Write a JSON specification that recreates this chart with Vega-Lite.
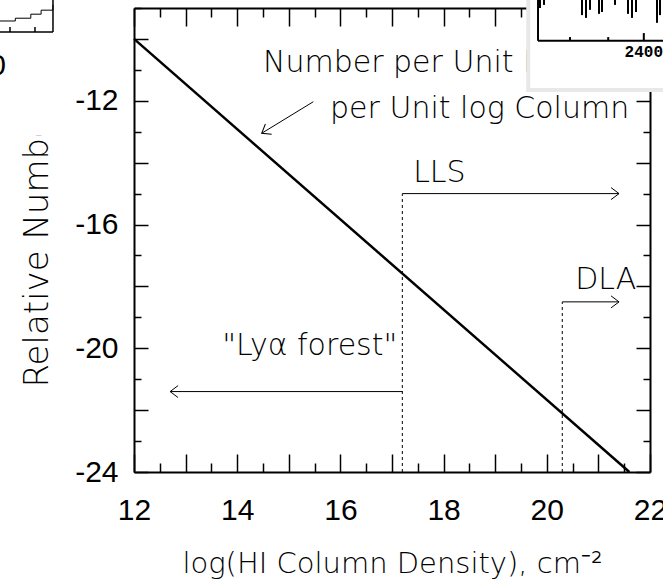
{
  "$schema": "https://vega.github.io/schema/vega-lite/v6.json",
  "width": 516,
  "height": 464,
  "autosize": {"type": "none"},
  "padding": {"left": 134, "top": 8, "right": 13, "bottom": 112},
  "background": "white",
  "config": {
    "view": {"stroke": null},
    "axis": {
      "domainColor": "black",
      "domainWidth": 2,
      "tickColor": "black",
      "tickWidth": 1.5,
      "labelColor": "black",
      "labelFont": "Liberation Sans",
      "labelFontSize": 30,
      "titleColor": "black",
      "titleFont": "DejaVu Sans",
      "titleFontWeight": 200,
      "grid": false
    },
    "text": {"font": "DejaVu Sans", "fontWeight": 200, "fontSize": 30, "color": "black"}
  },
  "datasets": {
    "powerlaw": [
      {"logN": 12.0, "logf": -10.0},
      {"logN": 21.6, "logf": -24.0}
    ],
    "limits": [
      {"name": "LLS", "logN": 17.2, "from": -24, "to": -15},
      {"name": "DLA", "logN": 20.3, "from": -24, "to": -18.5}
    ],
    "ranges": [
      {"name": "LLS", "start": 17.2, "end": 21.4, "level": -15},
      {"name": "DLA", "start": 20.3, "end": 21.4, "level": -18.5},
      {"name": "Lya forest", "start": 17.2, "end": 12.7, "level": -21.4}
    ],
    "pointer": [
      {"logN": 15.475, "logf": -12.03},
      {"logN": 14.475, "logf": -13.05}
    ],
    "annotations": [
      {"text": "Number per Unit Path", "logN": 14.5, "logf": -11.07},
      {"text": "per Unit log Column", "logN": 15.8, "logf": -12.56},
      {"text": "LLS", "logN": 17.41, "logf": -14.63},
      {"text": "DLA", "logN": 20.55, "logf": -18.08},
      {"text": "\"Lyα forest\"", "logN": 13.71, "logf": -20.22}
    ],
    "insetPanel": [
      {"x0": 19.64, "x1": 22.5, "y0": -8.5, "y1": -11.65}
    ],
    "insetFrame": [
      {"x0": 19.83, "x1": 19.83, "y0": -8.5, "y1": -10.06},
      {"x0": 19.83, "x1": 22.5, "y0": -10.06, "y1": -10.06},
      {"x0": 20.45, "x1": 20.45, "y0": -10.06, "y1": -9.94},
      {"x0": 21.19, "x1": 21.19, "y0": -10.06, "y1": -9.94},
      {"x0": 21.88, "x1": 21.88, "y0": -10.06, "y1": -9.81}
    ],
    "insetSpectrum": [
      {"wl": 19.868, "cont": -8.6, "depth": -9.0},
      {"wl": 19.946, "cont": -8.6, "depth": -8.9},
      {"wl": 20.682, "cont": -8.6, "depth": -9.23},
      {"wl": 20.76, "cont": -8.6, "depth": -9.32},
      {"wl": 20.837, "cont": -8.6, "depth": -9.06},
      {"wl": 21.012, "cont": -8.6, "depth": -9.19},
      {"wl": 21.07, "cont": -8.6, "depth": -9.13},
      {"wl": 21.322, "cont": -8.6, "depth": -8.9},
      {"wl": 21.574, "cont": -8.6, "depth": -9.19},
      {"wl": 21.651, "cont": -8.6, "depth": -9.32},
      {"wl": 21.729, "cont": -8.6, "depth": -9.13},
      {"wl": 22.136, "cont": -8.6, "depth": -9.48},
      {"wl": 22.194, "cont": -8.6, "depth": -9.23}
    ],
    "insetLabel": [
      {"text": "2400", "x": 21.88, "y": -10.58}
    ],
    "sidePanel": [
      {"x0": 9.0, "x1": 10.605, "y0": -8.5, "y1": -13.11}
    ],
    "sideFrame": [
      {"x0": 9.403, "x1": 10.43, "y0": -9.776, "y1": -9.776},
      {"x0": 10.43, "x1": 10.43, "y0": -8.5, "y1": -9.776},
      {"x0": 9.597, "x1": 9.597, "y0": -9.776, "y1": -9.614},
      {"x0": 10.081, "x1": 10.081, "y0": -9.776, "y1": -9.614}
    ],
    "sideCurve": [
      {"x": 9.403, "y": -9.42},
      {"x": 9.7, "y": -9.33},
      {"x": 10.0, "y": -9.2},
      {"x": 10.2, "y": -9.07},
      {"x": 10.43, "y": -8.903}
    ],
    "sideLabel": [
      {"text": "0", "x": 9.516, "y": -11.17}
    ]
  },
  "resolve": {"axis": {"x": "independent", "y": "independent"}},
  "layer": [
    {
      "data": {"name": "powerlaw"},
      "mark": {"type": "line", "color": "black", "strokeWidth": 2.5},
      "encoding": {
        "x": {
          "field": "logN", "type": "quantitative",
          "scale": {"domain": [12, 22], "nice": false, "zero": false},
          "axis": {
            "orient": "bottom",
            "values": [12, 13, 14, 15, 16, 17, 18, 19, 20, 21, 22],
            "tickSize": -18,
            "labelExpr": "datum.value % 2 === 0 ? format(datum.value, 'd') : ''",
            "labelPadding": 65,
            "labelBaseline": "alphabetic",
            "labelFlush": false,
            "labelOverlap": false,
            "title": "log(HI Column Density), cm⁻²",
            "titleFontSize": 29,
            "titleX": 258,
            "titleY": 100,
            "titleBaseline": "alphabetic",
            "titleAnchor": "middle"
          }
        },
        "y": {
          "field": "logf", "type": "quantitative",
          "scale": {"domain": [-24, -9], "nice": false, "zero": false},
          "axis": {
            "orient": "left",
            "values": [-24, -22, -20, -18, -16, -14, -12, -10],
            "tickSize": -14,
            "labelExpr": "datum.value % 4 === 0 ? replace(format(datum.value, 'd'), '\u2212', '-') : ''",
            "labelPadding": 30,
            "labelFlush": false,
            "labelOverlap": false,
            "title": "Relative Number",
            "titleFontSize": 34,
            "titleAngle": 270,
            "titleAlign": "left",
            "titleBaseline": "alphabetic",
            "titleX": -87,
            "titleY": 379
          }
        }
      }
    },
    {
      "data": {"name": "powerlaw"},
      "mark": {"type": "line", "opacity": 0},
      "encoding": {
        "x": {
          "field": "logN", "type": "quantitative",
          "axis": {"orient": "bottom", "values": [12.5, 13.5, 14.5, 15.5, 16.5, 17.5, 18.5, 19.5, 20.5, 21.5], "tickSize": -9, "labels": false, "domain": false, "title": null}
        },
        "y": {
          "field": "logf", "type": "quantitative",
          "axis": {"orient": "left", "values": [-23, -21, -19, -17, -15, -13, -11, -9], "tickSize": -7, "labels": false, "domain": false, "title": null}
        }
      }
    },
    {
      "data": {"name": "powerlaw"},
      "mark": {"type": "line", "opacity": 0},
      "encoding": {
        "x": {
          "field": "logN", "type": "quantitative",
          "axis": {"orient": "top", "values": [12, 13, 14, 15, 16, 17, 18, 19, 20, 21, 22], "tickSize": -18, "labels": false, "title": null}
        },
        "y": {
          "field": "logf", "type": "quantitative",
          "axis": {"orient": "right", "values": [-24, -22, -20, -18, -16, -14, -12, -10], "tickSize": -14, "labels": false, "title": null}
        }
      }
    },
    {
      "data": {"name": "powerlaw"},
      "mark": {"type": "line", "opacity": 0},
      "encoding": {
        "x": {
          "field": "logN", "type": "quantitative",
          "axis": {"orient": "top", "values": [12.5, 13.5, 14.5, 15.5, 16.5, 17.5, 18.5, 19.5, 20.5, 21.5], "tickSize": -9, "labels": false, "domain": false, "title": null}
        },
        "y": {
          "field": "logf", "type": "quantitative",
          "axis": {"orient": "right", "values": [-23, -21, -19, -17, -15, -13, -11, -9], "tickSize": -7, "labels": false, "domain": false, "title": null}
        }
      }
    },
    {
      "data": {"name": "limits"},
      "mark": {"type": "rule", "color": "black", "strokeWidth": 1, "strokeDash": [3, 3]},
      "encoding": {
        "x": {"field": "logN", "type": "quantitative", "axis": null},
        "y": {"field": "from", "type": "quantitative", "axis": null},
        "y2": {"field": "to"}
      }
    },
    {
      "data": {"name": "ranges"},
      "mark": {"type": "rule", "color": "black", "strokeWidth": 1},
      "encoding": {
        "x": {"field": "start", "type": "quantitative", "axis": null},
        "x2": {"field": "end"},
        "y": {"field": "level", "type": "quantitative", "axis": null}
      }
    },
    {
      "data": {"name": "ranges"},
      "transform": [{"filter": "datum.end > datum.start"}],
      "mark": {"type": "point", "shape": "M-1,-0.75L0,0L-1,0.75", "filled": false, "stroke": "black", "strokeWidth": 1, "size": 256, "opacity": 1},
      "encoding": {
        "x": {"field": "end", "type": "quantitative", "axis": null},
        "y": {"field": "level", "type": "quantitative", "axis": null}
      }
    },
    {
      "data": {"name": "ranges"},
      "transform": [{"filter": "datum.end < datum.start"}],
      "mark": {"type": "point", "shape": "M-1,-0.75L0,0L-1,0.75", "filled": false, "stroke": "black", "strokeWidth": 1, "size": 256, "opacity": 1, "angle": 180},
      "encoding": {
        "x": {"field": "end", "type": "quantitative", "axis": null},
        "y": {"field": "level", "type": "quantitative", "axis": null}
      }
    },
    {
      "data": {"name": "pointer"},
      "mark": {"type": "line", "color": "black", "strokeWidth": 1},
      "encoding": {
        "x": {"field": "logN", "type": "quantitative", "axis": null},
        "y": {"field": "logf", "type": "quantitative", "axis": null}
      }
    },
    {
      "data": {"name": "pointer"},
      "transform": [{"filter": "datum.logN < 15"}],
      "mark": {"type": "point", "shape": "M-1,-0.75L0,0L-1,0.75", "filled": false, "stroke": "black", "strokeWidth": 1, "size": 256, "opacity": 1, "angle": 148.5},
      "encoding": {
        "x": {"field": "logN", "type": "quantitative", "axis": null},
        "y": {"field": "logf", "type": "quantitative", "axis": null}
      }
    },
    {
      "data": {"name": "annotations"},
      "mark": {"type": "text", "align": "left", "baseline": "alphabetic"},
      "encoding": {
        "x": {"field": "logN", "type": "quantitative", "axis": null},
        "y": {"field": "logf", "type": "quantitative", "axis": null},
        "text": {"field": "text", "type": "nominal"}
      }
    },
    {
      "data": {"name": "insetPanel"},
      "mark": {"type": "rect", "fill": "white", "stroke": "#e8e8e8", "strokeWidth": 4, "clip": false},
      "encoding": {
        "x": {"field": "x0", "type": "quantitative", "axis": null},
        "x2": {"field": "x1"},
        "y": {"field": "y0", "type": "quantitative", "axis": null},
        "y2": {"field": "y1"}
      }
    },
    {
      "data": {"name": "insetSpectrum"},
      "mark": {"type": "rule", "color": "black", "strokeWidth": 2, "clip": false},
      "encoding": {
        "x": {"field": "wl", "type": "quantitative", "axis": null},
        "y": {"field": "cont", "type": "quantitative", "axis": null},
        "y2": {"field": "depth"}
      }
    },
    {
      "data": {"name": "insetFrame"},
      "mark": {"type": "rule", "color": "black", "strokeWidth": 2, "clip": false},
      "encoding": {
        "x": {"field": "x0", "type": "quantitative", "axis": null},
        "x2": {"field": "x1"},
        "y": {"field": "y0", "type": "quantitative", "axis": null},
        "y2": {"field": "y1"}
      }
    },
    {
      "data": {"name": "insetLabel"},
      "mark": {"type": "text", "font": "Liberation Mono", "fontWeight": "bold", "fontSize": 16, "align": "center", "baseline": "alphabetic", "clip": false},
      "encoding": {
        "x": {"field": "x", "type": "quantitative", "axis": null},
        "y": {"field": "y", "type": "quantitative", "axis": null},
        "text": {"field": "text", "type": "nominal"}
      }
    },
    {
      "data": {"name": "sidePanel"},
      "mark": {"type": "rect", "fill": "white", "clip": false},
      "encoding": {
        "x": {"field": "x0", "type": "quantitative", "axis": null},
        "x2": {"field": "x1"},
        "y": {"field": "y0", "type": "quantitative", "axis": null},
        "y2": {"field": "y1"}
      }
    },
    {
      "data": {"name": "sideFrame"},
      "mark": {"type": "rule", "color": "black", "strokeWidth": 1.5, "clip": false},
      "encoding": {
        "x": {"field": "x0", "type": "quantitative", "axis": null},
        "x2": {"field": "x1"},
        "y": {"field": "y0", "type": "quantitative", "axis": null},
        "y2": {"field": "y1"}
      }
    },
    {
      "data": {"name": "sideCurve"},
      "mark": {"type": "line", "color": "black", "strokeWidth": 1, "interpolate": "step-after", "clip": false},
      "encoding": {
        "x": {"field": "x", "type": "quantitative", "axis": null},
        "y": {"field": "y", "type": "quantitative", "axis": null}
      }
    },
    {
      "data": {"name": "sideLabel"},
      "mark": {"type": "text", "font": "Liberation Sans", "fontWeight": "normal", "fontSize": 30, "align": "right", "baseline": "alphabetic", "clip": false},
      "encoding": {
        "x": {"field": "x", "type": "quantitative", "axis": null},
        "y": {"field": "y", "type": "quantitative", "axis": null},
        "text": {"field": "text", "type": "nominal"}
      }
    }
  ]
}
